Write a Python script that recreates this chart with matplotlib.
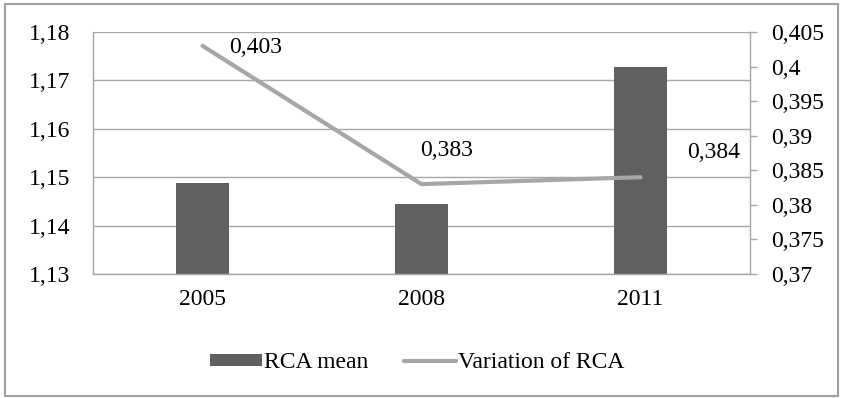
import matplotlib
matplotlib.use('Agg')
import matplotlib.pyplot as plt
from matplotlib.patches import Rectangle
from matplotlib.ticker import FuncFormatter

# data
years = ['2005', '2008', '2011']
rca_mean = [1.1489, 1.1444, 1.1727]
rca_variation = [0.403, 0.383, 0.384]
var_labels = ['0,403', '0,383', '0,384']

plt.rcParams['font.family'] = ['Liberation Serif', 'DejaVu Serif']
fs = 17

grid_col = '#a6a6a6'
bar_col = '#606060'
line_col = '#a6a6a6'

fig = plt.figure(figsize=(8.43, 3.98), dpi=100)
ax = fig.add_axes([93 / 843, 1 - 274 / 398, (750 - 93) / 843, (274 - 32) / 398])
ax2 = ax.twinx()

x = list(range(len(years)))
bars = ax.bar(x, rca_mean, width=0.24, color=bar_col, label='RCA mean', zorder=2)
ax.set_xlim(-0.5, 2.5)
ax.set_ylim(1.13, 1.18)
ax.set_yticks([1.13, 1.14, 1.15, 1.16, 1.17, 1.18])
ax.yaxis.set_major_formatter(FuncFormatter(lambda v, p: f'{v:.2f}'.replace('.', ',')))
ax.set_xticks(x)
ax.set_xticklabels(years)
ax.grid(axis='y', color=grid_col, linewidth=1.0, zorder=0)
ax.set_axisbelow(True)
ax.tick_params(axis='y', length=0, pad=16, labelsize=fs)
ax.tick_params(axis='x', length=0, pad=11, labelsize=fs)

line, = ax2.plot(x, rca_variation, color=line_col, linewidth=3,
                 solid_capstyle='round', label='Variation of RCA', zorder=3)
ax2.set_ylim(0.37, 0.405)
ax2.set_yticks([0.37, 0.375, 0.38, 0.385, 0.39, 0.395, 0.4, 0.405])
ax2.yaxis.set_major_formatter(
    FuncFormatter(lambda v, p: (f'{v:.3f}'.rstrip('0').rstrip('.')).replace('.', ',')))
ax2.tick_params(axis='y', length=5, width=1, color=grid_col, pad=10, labelsize=fs)

for a in (ax, ax2):
    a.spines['top'].set_visible(False)
    for s in ('left', 'right', 'bottom'):
        a.spines[s].set_color(grid_col)
        a.spines[s].set_linewidth(1.0)
ax.spines['right'].set_visible(False)
ax2.spines['left'].set_visible(False)
ax2.spines['bottom'].set_visible(False)

offsets = [(38, -1.5), (18, 24), (53, 18)]
for xi, yv, lab, off in zip(x, rca_variation, var_labels, offsets):
    ax2.annotate(lab, (xi, yv), xytext=off, textcoords='offset points',
                 ha='center', va='center', fontsize=fs)

fig.legend([bars, line], ['RCA mean', 'Variation of RCA'], loc='center',
           bbox_to_anchor=(417 / 843, 1 - 363 / 398), ncol=2, frameon=False,
           fontsize=fs, handlelength=2.2, handleheight=0.42, handletextpad=0.1,
           columnspacing=1.5)

fig.patches.append(Rectangle((0.006, 0.004), 0.988, 0.986, transform=fig.transFigure,
                             fill=False, edgecolor='#a0a0a0', linewidth=1.5))

fig.savefig('out.png', dpi=100)
